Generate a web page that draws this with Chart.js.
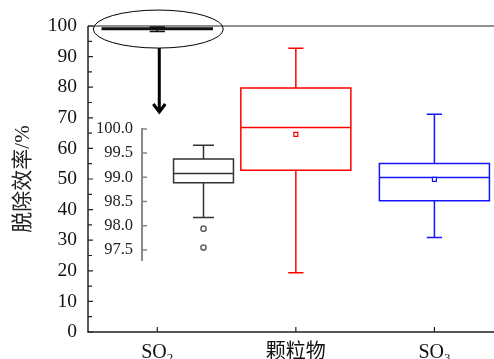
<!DOCTYPE html>
<html>
<head>
<meta charset="utf-8">
<script src="https://cdn.jsdelivr.net/npm/chart.js@4.4.0/dist/chart.umd.min.js"></script>
<style>
html, body { margin: 0; padding: 0; background: #fff; }
#wrap { position: relative; width: 494px; height: 359px; overflow: hidden; }
#main { position: absolute; left: 0; top: 0; }
#inset { position: absolute; left: 90px; top: 110px; }
</style>
</head>
<body>
<div id="wrap">
  <canvas id="main" width="494" height="359"></canvas>
  <canvas id="inset" width="175" height="170"></canvas>
</div>
<script>
// data
const categories = ['SO2', '颗粒物', 'SO3'];
const labelMain = ['SO', '颗粒物', 'SO'];
const labelSub = ['2', '', '3'];
const positions = [1, 2, 3];
const whiskerLow = [98.17, 19.4, 30.9];
const q1 = [98.89, 52.9, 42.9];
const median = [99.08, 66.8, 50.5];
const q3 = [99.38, 79.7, 55.1];
const whiskerHigh = [99.66, 92.7, 71.2];
const means = [null, 64.6, 49.9];
const so2Outliers = [97.94, 97.55];
const yTicks = [0, 10, 20, 30, 40, 50, 60, 70, 80, 90, 100];
const insetTicks = [97.5, 98.0, 98.5, 99.0, 99.5, 100.0];
const boxColors = ['#111111', '#ff0000', '#1414ff'];

const serif = "'Liberation Serif', 'Noto Sans CJK SC', serif";

function drawBox(ctx, xs, ys, i, halfW, capHalf, color, lw) {
    const x = xs.getPixelForValue(positions[i]);
    const xl = xs.getPixelForValue(positions[i] - halfW);
    const xr = xs.getPixelForValue(positions[i] + halfW);
    const cl = xs.getPixelForValue(positions[i] - capHalf);
    const cr = xs.getPixelForValue(positions[i] + capHalf);
    const yLo = ys.getPixelForValue(whiskerLow[i]);
    const yQ1 = ys.getPixelForValue(q1[i]);
    const yMed = ys.getPixelForValue(median[i]);
    const yQ3 = ys.getPixelForValue(q3[i]);
    const yHi = ys.getPixelForValue(whiskerHigh[i]);
    ctx.save();
    ctx.strokeStyle = color;
    ctx.lineWidth = lw;
    ctx.beginPath();
    ctx.rect(xl, yQ3, xr - xl, yQ1 - yQ3);
    ctx.moveTo(xl, yMed); ctx.lineTo(xr, yMed);
    ctx.moveTo(x, yQ3); ctx.lineTo(x, yHi);
    ctx.moveTo(x, yQ1); ctx.lineTo(x, yLo);
    ctx.moveTo(cl, yHi); ctx.lineTo(cr, yHi);
    ctx.moveTo(cl, yLo); ctx.lineTo(cr, yLo);
    ctx.stroke();
    ctx.restore();
}

const mainBoxes = {
    id: 'mainBoxes',
    beforeDatasetsDraw(chart) {
        const ctx = chart.ctx, xs = chart.scales.x, ys = chart.scales.y;
        positions.forEach((p, i) => drawBox(ctx, xs, ys, i, 0.397, 0.055, boxColors[i], 1.5));
    },
    afterDraw(chart) {
        const ctx = chart.ctx, xs = chart.scales.x, ys = chart.scales.y;
        const a = chart.chartArea;
        ctx.save();
        ctx.strokeStyle = '#222';
        ctx.lineWidth = 1.5;
        ctx.beginPath();
        ctx.moveTo(a.left, a.top); ctx.lineTo(a.left, a.bottom); ctx.lineTo(a.right, a.bottom);
        ctx.stroke();
        ctx.lineWidth = 1.2;
        ctx.beginPath();
        ctx.moveTo(a.left, a.top); ctx.lineTo(a.right, a.top);
        ctx.stroke();
        // inward ticks on y, major + minor
        ctx.beginPath();
        for (let v = 0; v <= 100; v += 5) {
            const y = ys.getPixelForValue(v);
            ctx.moveTo(a.left, y); ctx.lineTo(a.left + (v % 10 === 0 ? 5 : 4), y);
        }
        positions.forEach(p => {
            const x = xs.getPixelForValue(p);
            ctx.moveTo(x, a.bottom); ctx.lineTo(x, a.bottom - 5);
        });
        ctx.stroke();

        // category labels with subscripts
        ctx.fillStyle = '#111';
        ctx.textBaseline = 'alphabetic';
        positions.forEach((p, i) => {
            const x = xs.getPixelForValue(p);
            ctx.font = '20px ' + serif;
            const w1 = ctx.measureText(labelMain[i]).width;
            ctx.font = '13px ' + serif;
            const w2 = labelSub[i] ? ctx.measureText(labelSub[i]).width : 0;
            const x0 = x - (w1 + w2) / 2;
            ctx.font = '20px ' + serif;
            ctx.textAlign = 'left';
            ctx.fillText(labelMain[i], x0, 358);
            if (labelSub[i]) {
                ctx.font = '13px ' + serif;
                ctx.fillText(labelSub[i], x0 + w1, 362);
            }
        });

        // ellipse around the SO2 box and arrow to the inset
        const cx = xs.getPixelForValue(positions[0]) + 1;
        const cy = ys.getPixelForValue(99);
        ctx.strokeStyle = '#000';
        ctx.lineWidth = 1;
        ctx.beginPath();
        ctx.ellipse(cx, cy, 65, 19, 0, 0, Math.PI * 2);
        ctx.stroke();
        ctx.lineWidth = 3;
        ctx.beginPath();
        ctx.moveTo(cx + 1, cy + 19); ctx.lineTo(cx + 1, 111);
        ctx.moveTo(cx - 5, 104); ctx.lineTo(cx + 1, 112); ctx.lineTo(cx + 7, 104);
        ctx.stroke();
        ctx.restore();
    }
};

new Chart(document.getElementById('main'), {
    type: 'scatter',
    data: {
        datasets: [{
            data: positions.map((p, i) => ({ x: p, y: means[i] })).filter(d => d.y !== null),
            pointStyle: 'rect',
            pointRadius: 2.8,
            pointBorderWidth: 1.2,
            pointBackgroundColor: '#fff',
            pointBorderColor: boxColors.filter((c, i) => means[i] !== null)
        }]
    },
    options: {
        responsive: false,
        animation: false,
        layout: { autoPadding: false, padding: { left: 0, top: 26, right: 0, bottom: 27 } },
        plugins: { legend: { display: false }, tooltip: { enabled: false } },
        scales: {
            x: { type: 'linear', display: false, min: 0.5, max: 3.43 },
            y: {
                min: 0, max: 100,
                afterFit(s) { s.width = 88; },
                afterBuildTicks(s) { s.ticks = yTicks.map(v => ({ value: v })); },
                grid: { display: false, drawTicks: false },
                border: { display: false },
                ticks: { padding: 11, color: '#111', font: { family: serif, size: 19.5 } },
                title: {
                    display: true, text: '脱除效率/%', color: '#222',
                    font: { family: serif, size: 21 }, padding: { top: 11, bottom: 0 }
                }
            }
        }
    },
    plugins: [mainBoxes]
});

const insetBox = {
    id: 'insetBox',
    beforeDatasetsDraw(chart) {
        drawBox(chart.ctx, chart.scales.x, chart.scales.y, 0, 0.487, 0.17, '#333', 1.5);
    },
    afterDraw(chart) {
        const ctx = chart.ctx, ys = chart.scales.y, a = chart.chartArea;
        ctx.save();
        ctx.strokeStyle = '#888';
        ctx.lineWidth = 2;
        ctx.beginPath();
        ctx.moveTo(a.left, a.top - 1); ctx.lineTo(a.left, a.bottom);
        ctx.stroke();
        ctx.lineWidth = 1.5;
        ctx.beginPath();
        insetTicks.forEach(v => {
            const y = ys.getPixelForValue(v);
            ctx.moveTo(a.left, y); ctx.lineTo(a.left + 5, y);
        });
        ctx.stroke();
        ctx.restore();
    }
};

new Chart(document.getElementById('inset'), {
    type: 'scatter',
    data: {
        datasets: [{
            data: so2Outliers.map(v => ({ x: positions[0], y: v })),
            pointStyle: 'circle',
            pointRadius: 2.6,
            pointBorderWidth: 1.6,
            pointBackgroundColor: '#fff',
            pointBorderColor: '#666'
        }]
    },
    options: {
        responsive: false,
        animation: false,
        layout: { autoPadding: false, padding: { left: 0, top: 17, right: 0, bottom: 13 } },
        plugins: { legend: { display: false }, tooltip: { enabled: false } },
        scales: {
            x: { type: 'linear', display: false, min: 0, max: 2 },
            y: {
                min: 97.27, max: 100,
                afterFit(s) { s.width = 52; },
                afterBuildTicks(s) { s.ticks = insetTicks.map(v => ({ value: v })); },
                grid: { display: false, drawTicks: false },
                border: { display: false },
                ticks: {
                    padding: 9, color: '#222', font: { family: serif, size: 16.5 },
                    callback: v => v.toFixed(1)
                }
            }
        }
    },
    plugins: [insetBox]
});
</script>
</body>
</html>
